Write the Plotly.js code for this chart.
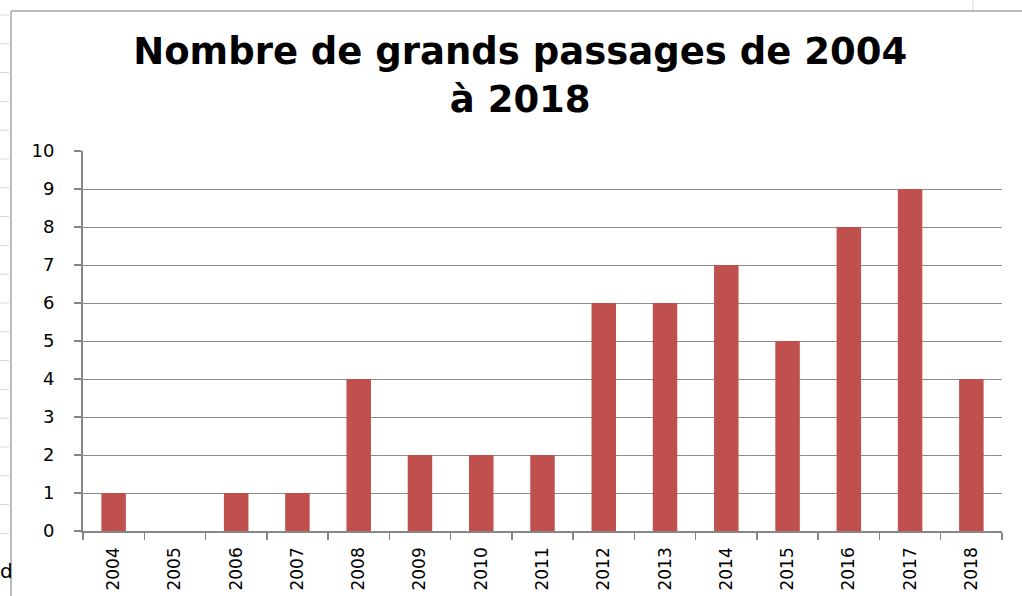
<!DOCTYPE html>
<html>
<head>
<meta charset="utf-8">
<script src="https://cdn.plot.ly/plotly-3.0.1.min.js"></script>
<style>html,body{margin:0;padding:0;background:#fff;}#chart{width:1022px;height:596px;}</style>
</head>
<body>
<div id="chart"></div>
<script>
const years = ["2004","2005","2006","2007","2008","2009","2010","2011","2012","2013","2014","2015","2016","2017","2018"];
const passages = [1,0,1,1,4,2,2,2,6,6,7,5,8,9,4];
const titleText = "Nombre de grands passages de 2004<br>à 2018";
const yTicks = [0,1,2,3,4,5,6,7,8,9,10];

const W = 1022, H = 596;
const L = 83, R = 1002, T = 151, B = 531;
function px(x){ return (x - L) / (R - L); }
function py(y){ return (B - y) / (B - T); }

const shapes = [];
// chart frame (spreadsheet embedded chart border)
shapes.push({type:'line', xref:'paper', yref:'paper', x0:px(11), x1:px(1022), y0:py(11), y1:py(11), line:{color:'#a6a6a6', width:1.5}});
shapes.push({type:'line', xref:'paper', yref:'paper', x0:px(11), x1:px(11), y0:py(11), y1:py(596), line:{color:'#a6a6a6', width:1.5}});
// spreadsheet row separators at left edge
for (let i = 0; i < 19; i++) {
  const yy = 15 + i * 28.8;
  shapes.push({type:'line', xref:'paper', yref:'paper', x0:px(0), x1:px(9), y0:py(yy), y1:py(yy), line:{color:'#d0d7e5', width:1}});
}
shapes.push({type:'line', xref:'paper', yref:'paper', x0:px(973), x1:px(973), y0:py(0), y1:py(10), line:{color:'#d0d7e5', width:1}});

const data = [{
  type: 'bar',
  x: years,
  y: passages,
  marker: {color: '#C0504D', line: {width: 0}},
  hoverinfo: 'x+y'
}];

const layout = {
  width: W, height: H,
  margin: {l: L, r: W - R, t: T, b: H - B, pad: 0},
  paper_bgcolor: '#ffffff',
  plot_bgcolor: '#ffffff',
  showlegend: false,
  bargap: 0.6,
  title: {
    text: titleText,
    font: {family: 'DejaVu Sans', size: 37, color: '#000000', weight: 'bold'},
    x: 0.509, xanchor: 'center', xref: 'container',
    y: 1 - 64 / H, yanchor: 'top', yref: 'container'
  },
  xaxis: {
    type: 'category',
    tickangle: -90,
    tickfont: {family: 'DejaVu Sans', size: 17, color: '#000000'},
    ticklabelstandoff: 8,
    showline: true, linecolor: '#868686', linewidth: 1.5,
    ticks: 'outside', ticklen: 7, tickcolor: '#868686', tickwidth: 1.5,
    tickson: 'boundaries',
    showgrid: false,
    fixedrange: true
  },
  yaxis: {
    range: [0, 10],
    tickvals: yTicks,
    ticktext: yTicks.map(String),
    tickfont: {family: 'DejaVu Sans', size: 18, color: '#000000'},
    ticklabelstandoff: 16,
    showline: true, linecolor: '#868686', linewidth: 2,
    ticks: 'outside', ticklen: 7, tickcolor: '#868686', tickwidth: 1.5,
    showgrid: true, gridcolor: '#8c8c8c', gridwidth: 1,
    zeroline: false,
    fixedrange: true
  },
  shapes: shapes,
  annotations: [{
    text: 'd', xref: 'paper', yref: 'paper', x: px(-2), y: py(571),
    xanchor: 'left', yanchor: 'middle', showarrow: false,
    font: {family: 'DejaVu Sans', size: 20, color: '#000000'}
  }]
};

Plotly.newPlot('chart', data, layout, {displayModeBar: false, staticPlot: true});
</script>
</body>
</html>
